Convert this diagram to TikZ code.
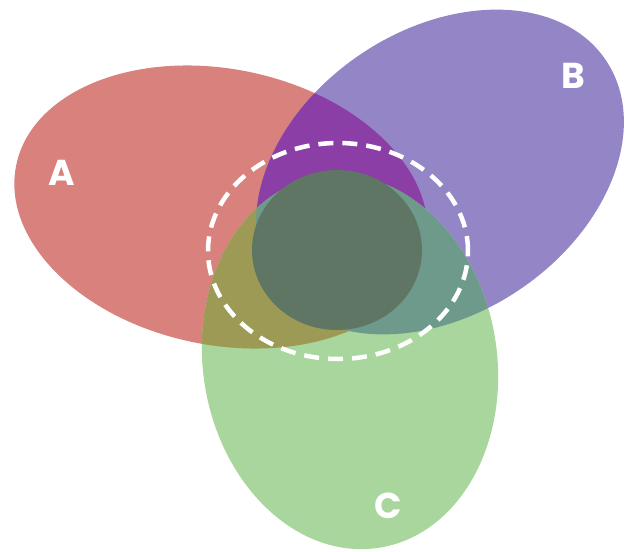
\documentclass[tikz,border=0pt]{standalone}
\usepackage{fontspec}
\setmainfont{Poppins}
\definecolor{colA}{HTML}{D9817C}
\definecolor{colB}{HTML}{9486C6}
\definecolor{colC}{HTML}{A8D69C}
\definecolor{colAB}{HTML}{8B3FA6}
\definecolor{colAC}{HTML}{9C9A55}
\definecolor{colBC}{HTML}{6E9A8C}
\definecolor{colABC}{HTML}{5F7665}
\newcommand\ellApath{(221,207) ellipse [x radius=209pt, y radius=138pt]}
\newcommand\ellBpath{(440,172) ellipse [x radius=200pt, y radius=142pt]}
\newcommand\ellCpath{(350,362) ellipse [x radius=147pt, y radius=188pt]}
\tikzset{
  rotA/.style={rotate around={-11.5:(221,207)}},
  rotB/.style={rotate around={34:(440,172)}},
  rotC/.style={rotate around={9:(350,362)}},
  setlabel/.style={text=white, font=\fontsize{36}{36}\selectfont\bfseries, inner sep=0pt},
  ring/.style={draw=white, line width=4.5pt, dash pattern=on 15pt off 9pt}
}
\begin{document}
\begin{tikzpicture}[x=1pt,y=-1pt]
\useasboundingbox (0,0) rectangle (630,552);
\fill[white] (0,0) rectangle (630,552);
% base sets
\fill[colA, rotA] \ellApath;
\fill[colB, rotB] \ellBpath;
\fill[colC, rotC] \ellCpath;
% A and B
\begin{scope}
  \clip[rotA] \ellApath;
  \fill[colAB, rotB] \ellBpath;
\end{scope}
% A and C
\begin{scope}
  \clip[rotA] \ellApath;
  \fill[colAC, rotC] \ellCpath;
\end{scope}
% B and C
\begin{scope}
  \clip[rotB] \ellBpath;
  \fill[colBC, rotC] \ellCpath;
\end{scope}
% common core
\fill[colABC] (337,250) ellipse [x radius=85pt, y radius=80pt];
% dashed ring
\draw[ring] (338,251) ellipse [x radius=130pt, y radius=108pt];
% labels
\node[setlabel] (labA) at (62,173) {A};
\node[setlabel] (labB) at (573,76) {B};
\node[setlabel] (labC) at (388,506) {C};
\end{tikzpicture}
\end{document}
